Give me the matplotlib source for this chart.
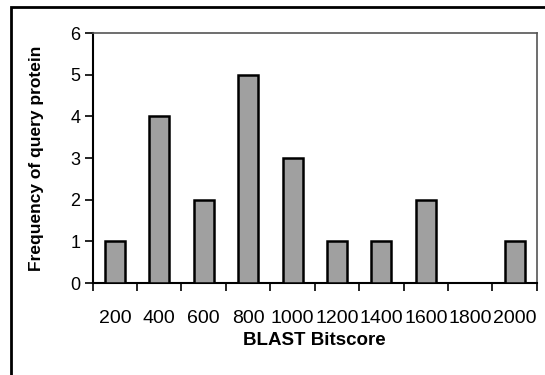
import matplotlib.pyplot as plt
import numpy as np
from matplotlib.patches import Rectangle

plt.rcParams['font.family'] = ['Liberation Sans', 'DejaVu Sans']

bitscores = ['200', '400', '600', '800', '1000', '1200', '1400', '1600', '1800', '2000']
frequency = [1, 4, 2, 5, 3, 1, 1, 2, 0, 1]

fig = plt.figure(figsize=(5.45, 3.75), dpi=100)
ax = fig.add_axes([0.17, 0.245, 0.815, 0.667])

x = np.arange(len(bitscores))
ax.bar(x, frequency, width=0.45, color='#a0a0a0', edgecolor='black', linewidth=1.8, zorder=3)

ax.set_xlim(-0.5, len(bitscores) - 0.5)
ax.set_ylim(0, 6)
ax.set_yticks(range(7))

# ticks sit on category boundaries, labels on the centres
ax.set_xticks(np.arange(-0.5, len(bitscores)), minor=False)
ax.set_xticklabels([])
ax.set_xticks(x, minor=True)
ax.set_xticklabels(bitscores, minor=True)
ax.tick_params(axis='x', which='major', direction='out', length=6, width=1.2)
ax.tick_params(axis='x', which='minor', length=0, pad=19, labelsize=14)
ax.tick_params(axis='y', direction='out', length=6, width=1.2, labelsize=13, pad=3)

for side in ('left', 'bottom'):
    ax.spines[side].set_linewidth(1.5)
for side in ('top', 'right'):
    ax.spines[side].set_color('#555555')
    ax.spines[side].set_linewidth(1.2)

ax.set_xlabel('BLAST Bitscore', fontsize=13.5, fontweight='bold', labelpad=4)
ax.set_ylabel('Frequency of query protein', fontsize=12.5, fontweight='bold', labelpad=19)

# outer chart frame
fig.patches.append(Rectangle((11 / 545, -0.1), 1.2, 1 - 7 / 375 + 0.1,
                             transform=fig.transFigure, fill=False,
                             edgecolor='black', linewidth=2))

fig.savefig('out.png', dpi=100)
